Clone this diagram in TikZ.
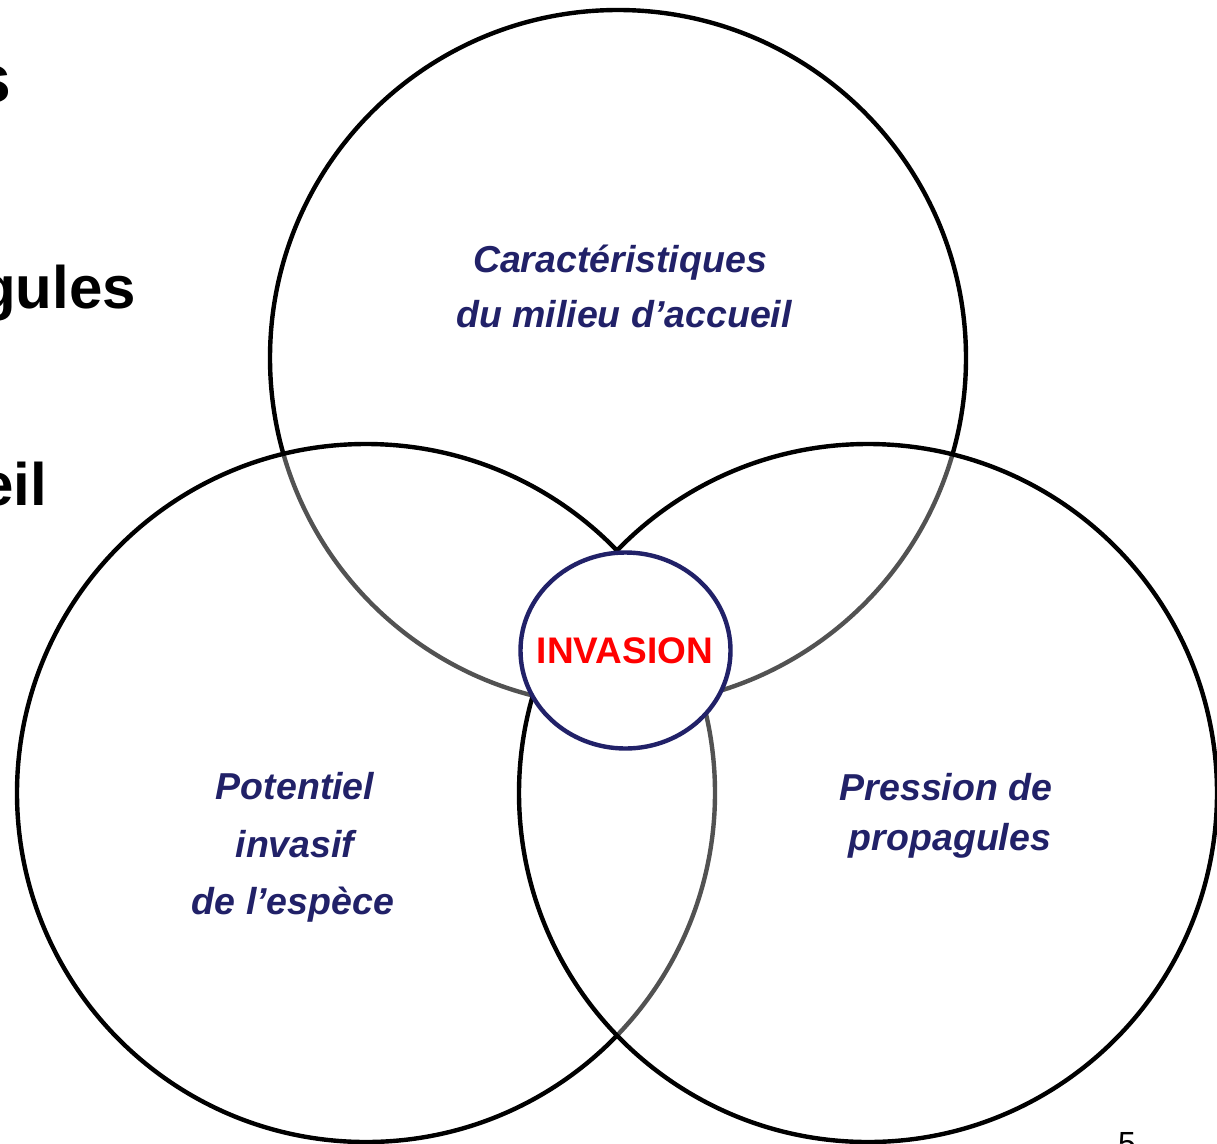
\documentclass[tikz,border=0pt]{standalone}
\usepackage{fontspec}
\setmainfont{Liberation Sans}
\definecolor{navy}{RGB}{33,33,104}
\definecolor{invred}{RGB}{255,0,0}
\tikzset{
  venn/.style={draw=black, line width=4.4pt, fill=white, fill opacity=0.32},
  lbl/.style={text=navy, font=\fontsize{37.5}{44}\selectfont\bfseries\itshape, inner sep=0pt, anchor=base},
  side/.style={text=black, font=\fontsize{60}{70}\selectfont\bfseries, inner sep=0pt, anchor=base east},
}
\begin{document}
\begin{tikzpicture}[x=1pt, y=-1pt]
\useasboundingbox (0,0) rectangle (1217,1143);
% partially cropped slide text on the left
\node[side, font=\fontsize{68}{78}\selectfont\bfseries] (ts) at (12,102) {s};
\node[side] (tg) at (136,308) {gules};
\node[side] (te) at (47,505) {eil};
\node[text=black, font=\fontsize{32}{38}\selectfont, inner sep=0pt, anchor=north] (pg) at (1127,1132) {5};
% three circles
\path[venn] (618,358) circle (348);
\path[venn] (366,793) circle (349);
\path[venn] (868,793) circle (349);
% central ellipse
\draw[navy, line width=4.4pt, fill=white] (625.5,650.5) ellipse (105 and 98);
\node[inner sep=0pt, anchor=base, text=invred, font=\fontsize{37}{42}\selectfont\bfseries] (inv) at (625,663) {INVASION};
% labels
\node[lbl] (c1) at (620,272) {Caractéristiques};
\node[lbl] (c2) at (624,327) {du milieu d’accueil};
\node[lbl] (p1) at (295,799) {Potentiel};
\node[lbl] (p2) at (295,857) {invasif};
\node[lbl] (p3) at (293,914) {de l’espèce};
\node[lbl] (r1) at (946,800) {Pression de};
\node[lbl] (r2) at (950,850) {propagules};
\end{tikzpicture}
\end{document}
